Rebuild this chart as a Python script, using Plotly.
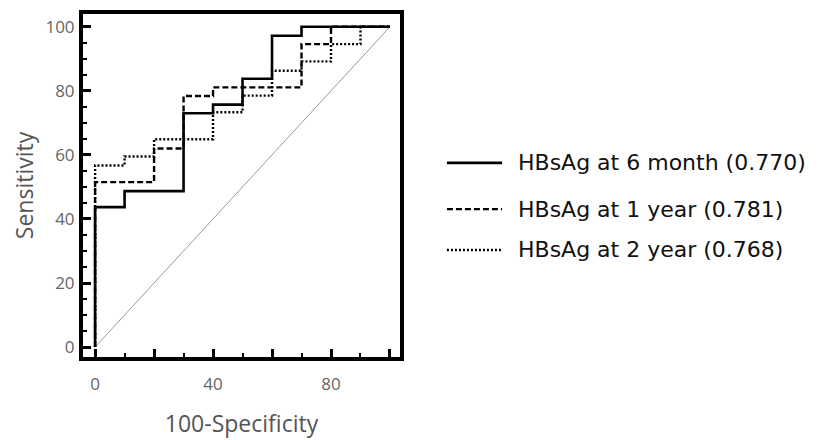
import plotly.graph_objects as go

# ROC step curves (100-Specificity, Sensitivity)
series_names = ["HBsAg at 6 month (0.770)", "HBsAg at 1 year (0.781)", "HBsAg at 2 year (0.768)"]

fpr_6m = [0, 0, 10, 30, 40, 50, 60, 70, 100]
tpr_6m = [0, 43.7, 48.7, 73.0, 75.7, 83.8, 97.2, 100, 100]

fpr_1y = [0, 0, 20, 30, 40, 70, 80, 100]
tpr_1y = [0, 51.5, 62.0, 78.4, 81.1, 94.6, 100, 100]

fpr_2y = [0, 0, 10, 20, 40, 50, 60, 70, 80, 90, 100]
tpr_2y = [0, 56.7, 59.5, 64.9, 73.3, 78.5, 86.3, 89.2, 94.6, 100, 100]

diag_x = [0, 100]
diag_y = [0, 100]

x_tickvals = [0, 20, 40, 60, 80, 100]
x_ticktext = ["0", "", "40", "", "80", ""]
y_tickvals = [0, 20, 40, 60, 80, 100]
y_ticktext = ["0", "20", "40", "60", "80", "100"]

dashes = ["solid", "6px,3px", "2px,2px"]
widths = [2.6, 2.4, 2.4]

fig = go.Figure()
fig.add_trace(go.Scatter(x=diag_x, y=diag_y, mode="lines",
                         line=dict(color="#9a9a9a", width=1), showlegend=False))
for xs, ys, name, d, w in zip([fpr_6m, fpr_1y, fpr_2y], [tpr_6m, tpr_1y, tpr_2y],
                              series_names, dashes, widths):
    fig.add_trace(go.Scatter(x=xs, y=ys, mode="lines", name=name,
                             line=dict(color="black", width=w, dash=d, shape="hv"),
                             showlegend=False))

# manual legend (longer line samples as in the reference)
row_y = [0.566, 0.431, 0.312]
for name, d, w, yy in zip(series_names, dashes, widths, row_y):
    fig.add_shape(type="line", xref="paper", yref="paper",
                  x0=1.148, x1=1.322, y0=yy, y1=yy,
                  line=dict(color="black", width=w, dash=d))
    fig.add_annotation(xref="paper", yref="paper", x=1.366, y=yy, text=name,
                       showarrow=False, xanchor="left", yanchor="middle",
                       font=dict(family="DejaVu Sans", size=22, color="#111"))

# page body has an 8px margin, so the figure is sized/offset to compensate
fig.update_layout(
    width=814, height=432,
    margin=dict(l=75, r=422, t=6, b=83),
    plot_bgcolor="white", paper_bgcolor="white",
    showlegend=False,
)
fig.update_xaxes(
    range=[-4.1, 103.4], showgrid=False, zeroline=False, automargin=False,
    showline=True, linecolor="black", linewidth=4, mirror=True,
    ticks="inside", ticklen=8, tickwidth=3, tickcolor="black",
    tickvals=x_tickvals, ticktext=x_ticktext,
    minor=dict(dtick=10, tick0=0, ticks="inside", ticklen=4, tickwidth=2, tickcolor="black"),
    tickfont=dict(family="Open Sans", size=17, color="#666"),
    ticklabelstandoff=9,
    title=dict(text="100-Specificity", font=dict(family="Open Sans", size=23, color="#555"),
               standoff=22),
)
fig.update_yaxes(
    range=[-3.1, 104], showgrid=False, zeroline=False, automargin=False,
    showline=True, linecolor="black", linewidth=4, mirror=True,
    ticks="inside", ticklen=8, tickwidth=3, tickcolor="black",
    tickvals=y_tickvals, ticktext=y_ticktext,
    minor=dict(dtick=5, tick0=0, ticks="inside", ticklen=4, tickwidth=2, tickcolor="black"),
    tickfont=dict(family="Open Sans", size=17, color="#666"),
    ticklabelstandoff=1,
    title=dict(text="Sensitivity", font=dict(family="Open Sans", size=23, color="#555"),
               standoff=19),
)

fig.write_html("out.html")
